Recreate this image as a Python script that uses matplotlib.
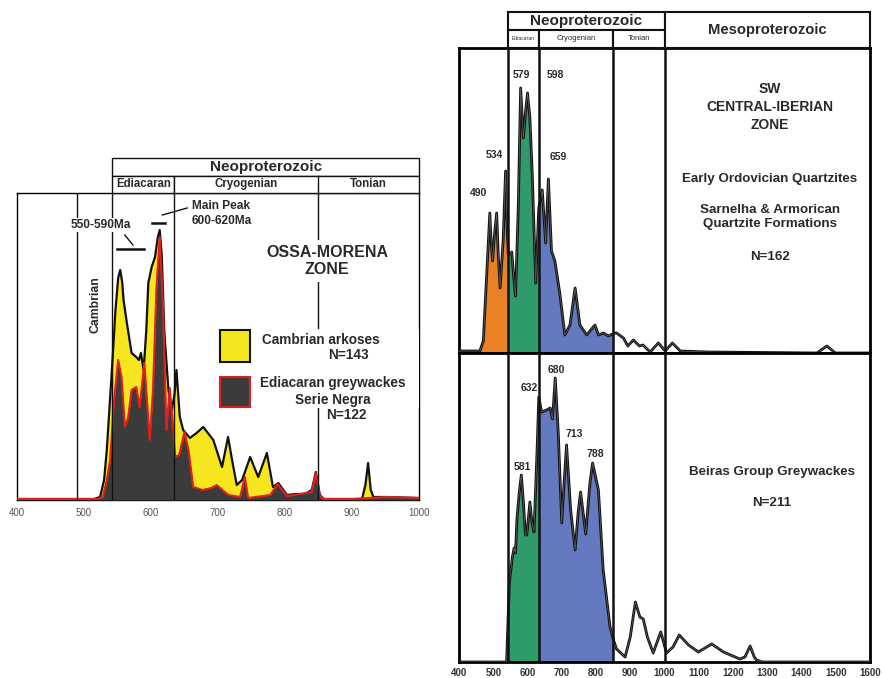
import matplotlib.pyplot as plt
from matplotlib.patches import Rectangle
import numpy as np

plt.rcParams['font.family'] = ['Liberation Sans', 'DejaVu Sans']
plt.rcParams['font.weight'] = 'bold'

# ---------------- data ----------------
# period boundaries (Ma)
bounds = [490, 542, 635, 850, 1000]

# Ossa-Morena zone: Cambrian arkoses (yellow)
arkose_age = [400, 515, 524, 530, 534, 541, 547, 551, 554, 557, 559, 564, 571, 578, 582, 585, 589, 593,
              596, 601, 606, 610, 613, 616, 620, 626, 631, 635, 638, 643, 648, 658, 668, 678,
              693, 706, 715, 721, 728, 736, 748, 760, 773, 782, 790, 803, 815, 830, 840, 846,
              852, 858, 915, 920, 924, 928, 932, 950, 1000]
arkose_p = [1, 1, 3, 20, 50, 123, 190, 222, 230, 218, 200, 177, 147, 143, 140, 147, 130, 170,
            217, 233, 243, 262, 270, 245, 167, 110, 90, 105, 130, 83, 70, 62, 67, 73,
            60, 33, 63, 40, 15, 20, 43, 23, 47, 13, 17, 5, 6, 6, 10, 28,
            5, 1, 1, 15, 37, 10, 3, 3, 2]

# Ossa-Morena zone: Ediacaran greywackes, Serie Negra (dark)
greyw_age = [400, 520, 528, 534, 539, 545, 551, 556, 561, 566, 571, 578, 583, 590, 594, 598,
             603, 608, 613, 618, 623, 628, 632, 636, 642, 650, 656, 663, 677, 690, 698, 710,
             716, 733, 740, 745, 778, 789, 803, 822, 840, 846, 852, 858, 900, 950, 1000]
greyw_p = [1, 1, 3, 20, 40, 100, 140, 123, 73, 83, 110, 113, 93, 137, 100, 60,
           110, 210, 263, 193, 70, 112, 80, 43, 45, 68, 50, 13, 10, 12, 15, 8,
           5, 3, 23, 2, 5, 16, 4, 6, 8, 27, 4, 1, 1, 3, 2]

# SW Central-Iberian zone: Early Ordovician quartzites (N=162)
quartz_age = [400, 461, 471, 481, 490, 494, 498, 504, 510, 515, 520, 529, 536, 540, 544, 554,
              560, 565, 573, 580, 588, 594, 600, 607, 614, 624, 633, 643, 653, 661, 670, 680,
              695, 709, 724, 739, 753, 773, 782, 797, 807, 822, 836, 855, 860, 880, 893, 909,
              927, 937, 958, 982, 1002, 1023, 1046, 1124, 1445, 1474, 1499, 1600]
quartz_p = [2, 2, 12, 79, 140, 110, 92, 120, 140, 95, 65, 113, 182, 130, 98, 101,
            75, 57, 145, 265, 215, 240, 260, 235, 178, 70, 145, 163, 110, 174, 102, 92,
            58, 18, 28, 65, 28, 18, 22, 28, 18, 20, 17, 20, 20, 15, 7, 13,
            7, 8, 1, 10, 2, 10, 2, 1, 0, 7, 0, 0]

# SW Central-Iberian zone: Beiras Group greywackes (N=211)
beiras_age = [400, 539, 543, 547, 556, 561, 565, 569, 576, 582, 588, 594, 598, 607, 613, 619,
              628, 633, 641, 656, 666, 673, 681, 690, 700, 707, 714, 726, 739, 748, 755, 770,
              782, 790, 807, 821, 841, 851, 860, 885, 900, 915, 928, 938, 950, 967, 989, 1006,
              1025, 1043, 1070, 1099, 1138, 1172, 1220, 1235, 1250, 1262, 1269, 1285, 1600]
beiras_p = [0, 0, 40, 79, 105, 114, 109, 142, 170, 187, 160, 127, 127, 160, 140, 130,
            212, 265, 250, 252, 254, 243, 284, 228, 139, 180, 217, 152, 112, 150, 170, 128,
            178, 199, 172, 92, 35, 22, 13, 5, 25, 60, 45, 43, 25, 9, 30, 9,
            15, 27, 17, 10, 18, 10, 3, 5, 16, 5, 2, 0, 0]

quartz_peaks = [(490, 458, 160), (534, 502, 198), (579, 581, 278), (598, 680, 278), (659, 689, 196)]
beiras_peaks = [(581, 584, 195), (632, 604, 274), (680, 683, 292), (713, 736, 228), (788, 797, 208)]

W, H = 882, 678
fig = plt.figure(figsize=(W / 100, H / 100), dpi=100)


def box(l, t, r, b):
    return [l / W, 1 - b / H, (r - l) / W, (b - t) / H]


TXT = '#2a2a2a'

# ---------------- left: Ossa-Morena ----------------
axl = fig.add_axes(box(17, 193, 419, 500))
axl.set_xlim(400, 1000)
axl.set_ylim(0, 307)
axl.fill_between(arkose_age, arkose_p, 0, color='#f6e620', lw=0, zorder=1)
axl.plot(arkose_age, arkose_p, color='#111111', lw=1.6, zorder=2, solid_joinstyle='round')
axl.fill_between(greyw_age, greyw_p, 0, color='#3b3b3b', lw=0, zorder=3)
axl.plot(greyw_age, greyw_p, color='#e0201b', lw=1.5, zorder=4, solid_joinstyle='round')
for b in bounds[:4]:
    axl.axvline(b, color='#111111', lw=1.0, zorder=5)
axl.set_xticks(range(400, 1001, 100))
axl.set_yticks([])
axl.tick_params(axis='x', length=0, pad=6, labelsize=7, labelcolor='#555555')
for lab in axl.get_xticklabels():
    lab.set_fontweight('normal')
for s in axl.spines.values():
    s.set_linewidth(1.0)

axl.text(517, 195, 'Cambrian', rotation=90, ha='center', va='center', fontsize=8.8, color=TXT)
axl.text(525, 275, '550-590Ma', ha='center', va='center', fontsize=8.6, color=TXT, zorder=7,
         bbox=dict(fc='white', ec='none', pad=1))
axl.plot([561, 573], [265, 255], color='#111111', lw=1.0)
axl.plot([550, 590], [251, 251], color='#111111', lw=1.8)
axl.text(661, 294, 'Main Peak', ha='left', va='center', fontsize=8.6, color=TXT)
axl.text(661, 279, '600-620Ma', ha='left', va='center', fontsize=8.6, color=TXT)
axl.plot([654, 617], [292, 285], color='#111111', lw=1.0, clip_on=False)
axl.plot([601, 621], [277, 277], color='#111111', lw=1.8)
axl.text(863, 239, 'OSSA-MORENA\nZONE', ha='center', va='center', fontsize=11.5, color=TXT,
         linespacing=1.1, zorder=7, bbox=dict(fc='white', ec='none', pad=4))

# legend block
axl.add_patch(Rectangle((0.60, 0.30), 0.40, 0.258, transform=axl.transAxes, fc='white', ec='none', zorder=6))
axl.add_patch(Rectangle((0.505, 0.45), 0.075, 0.103, transform=axl.transAxes,
                        fc='#f6e620', ec='#111111', lw=1.5, zorder=7))
axl.add_patch(Rectangle((0.505, 0.303), 0.075, 0.097, transform=axl.transAxes,
                        fc='#3b3b3b', ec='#e0201b', lw=1.5, zorder=7))
axl.text(766, 160, 'Cambrian arkoses', ha='left', va='center', fontsize=9.8, color=TXT, zorder=8)
axl.text(894, 145, 'N=143', ha='center', va='center', fontsize=9.8, color=TXT, zorder=8)
axl.text(872, 117, 'Ediacaran greywackes', ha='center', va='center', fontsize=9.8, color=TXT, zorder=8)
axl.text(872, 100, 'Serie Negra', ha='center', va='center', fontsize=9.8, color=TXT, zorder=8)
axl.text(892, 85, 'N=122', ha='center', va='center', fontsize=9.8, color=TXT, zorder=8)

# left header
hl = fig.add_axes(box(17, 158, 419, 193))
hl.set_xlim(400, 1000)
hl.set_ylim(0, 2)
hl.axis('off')
hl.add_patch(Rectangle((542, 1), 1000 - 542, 1, fc='white', ec='#111111', lw=1.0, clip_on=False))
for (a, b), name in zip([(542, 635), (635, 850), (850, 1000)], ['Ediacaran', 'Cryogenian', 'Tonian']):
    hl.add_patch(Rectangle((a, 0), b - a, 1, fc='white', ec='#111111', lw=1.0, clip_on=False))
    hl.text((a + b) / 2, 0.5, name, ha='center', va='center', fontsize=8.3, color=TXT)
hl.text((542 + 1000) / 2, 1.5, 'Neoproterozoic', ha='center', va='center', fontsize=11, color=TXT)

# ---------------- right: SW Central-Iberian ----------------
fills = [(400, 542, '#ea8126'), (542, 635, '#2f9a6a'), (635, 850, '#6479bf')]


def panel(rect, age, p, ymax, ticks):
    ax = fig.add_axes(rect)
    ax.set_xlim(400, 1600)
    ax.set_ylim(0, ymax)
    for a, b, c in fills:
        poly = ax.fill_between(age, p, 0, color=c, lw=0, zorder=1)
        poly.set_clip_path(Rectangle((a, -50), b - a, 1000, transform=ax.transData))
    ax.plot(age, p, color='#111111', lw=2.0, zorder=3, solid_joinstyle='round')
    ax.plot(age, p, color='#9a9a9a', lw=0.5, zorder=4, alpha=0.6)
    for b in bounds[1:]:
        ax.axvline(b, color='#111111', lw=1.8, zorder=5)
    ax.set_yticks([])
    ax.set_xticks(range(400, 1601, 100))
    ax.tick_params(axis='x', length=0, pad=4, labelsize=7, labelcolor='#333333')
    if not ticks:
        ax.set_xticklabels([])
    for s in ax.spines.values():
        s.set_linewidth(2.0)
    return ax


axt = panel(box(459, 48, 870, 353), quartz_age, quartz_p, 305, False)
axb = panel(box(459, 353, 870, 662), beiras_age, beiras_p, 309, True)

for lab, x, y in quartz_peaks:
    axt.text(x, y, str(lab), ha='center', va='center', fontsize=7.5, color=TXT)
for lab, x, y in beiras_peaks:
    axb.text(x, y, str(lab), ha='center', va='center', fontsize=7.5, color=TXT)

axt.text(1308, 246, 'SW\nCENTRAL-IBERIAN\nZONE', ha='center', va='center', fontsize=10,
         linespacing=1.35, color=TXT)
axt.text(1308, 174, 'Early Ordovician Quartzites', ha='center', va='center', fontsize=9.6, color=TXT)
axt.text(1308, 136, 'Sarnelha & Armorican\nQuartzite Formations', ha='center', va='center',
         fontsize=9.6, linespacing=1.15, color=TXT)
axt.text(1308, 96, 'N=162', ha='center', va='center', fontsize=9.6, color=TXT)
axb.text(1314, 190, 'Beiras Group Greywackes', ha='center', va='center', fontsize=9.6, color=TXT)
axb.text(1314, 159, 'N=211', ha='center', va='center', fontsize=9.6, color=TXT)

# right header
hr = fig.add_axes(box(459, 12, 870, 48))
hr.set_xlim(400, 1600)
hr.set_ylim(0, 2)
hr.axis('off')
hr.add_patch(Rectangle((542, 1), 1000 - 542, 1, fc='white', ec='#111111', lw=1.5, clip_on=False))
hr.text((542 + 1000) / 2, 1.5, 'Neoproterozoic', ha='center', va='center', fontsize=11, color=TXT)
for (a, b), name, fs in zip([(542, 635), (635, 850), (850, 1000)],
                            ['Ediacaran', 'Cryogenian', 'Tonian'], [3.6, 5.5, 5.5]):
    hr.add_patch(Rectangle((a, 0), b - a, 1, fc='white', ec='#111111', lw=1.5, clip_on=False))
    hr.text((a + b) / 2, 0.5, name, ha='center', va='center', fontsize=fs, color=TXT,
            fontweight='normal')
hr.add_patch(Rectangle((1000, 0), 600, 2, fc='white', ec='#111111', lw=1.5, clip_on=False))
hr.text(1300, 1.0, 'Mesoproterozoic', ha='center', va='center', fontsize=10.6, color=TXT)

fig.savefig('out.png', dpi=100)
